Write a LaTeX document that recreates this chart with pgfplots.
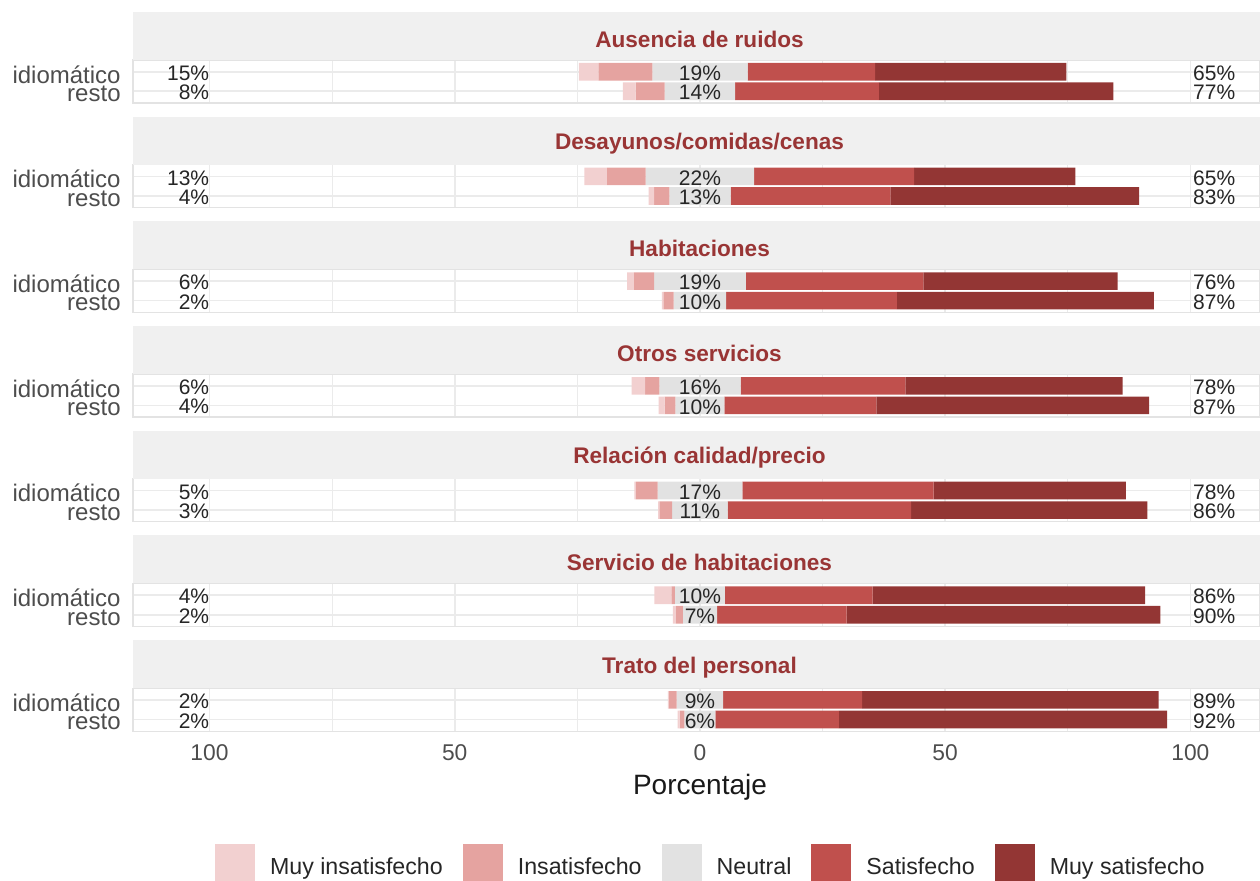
\documentclass[border=0pt]{standalone}
\usepackage{pgfplots}
\usepackage{pgfplotstable}
\pgfplotsset{compat=1.18}
\usepackage{fontspec}
\setmainfont{Liberation Sans}

\definecolor{c1}{HTML}{F2D0D0}
\definecolor{c2}{HTML}{E5A3A0}
\definecolor{c3}{HTML}{E2E2E2}
\definecolor{c4}{HTML}{C0504D}
\definecolor{c5}{HTML}{933634}
\definecolor{stripc}{HTML}{F0F0F0}
\definecolor{titlec}{HTML}{993535}
\definecolor{gridc}{HTML}{EBEBEB}
\definecolor{borderc}{HTML}{E3E3E3}
\definecolor{textc}{HTML}{4D4D4D}
\definecolor{labc}{HTML}{262626}

% y: 2 = idiomatico, 1 = resto ; L = left end of the stacked bar
\pgfplotstableread{
y L m1 m2 n s ms
2 -24.7 4 11 19.4 26 39
1 -15.7 2.6 5.9 14.4 29.3 47.8
}\tA
\pgfplotstableread{
y L m1 m2 n s ms
2 -23.55 4.6 7.9 22.1 32.6 32.9
1 -10.45 1.1 3.1 12.5 32.6 50.7
}\tB
\pgfplotstableread{
y L m1 m2 n s ms
2 -14.85 1.4 4.1 18.7 36.2 39.6
1 -7.75 0.3 2.1 10.7 34.8 52.4
}\tC
\pgfplotstableread{
y L m1 m2 n s ms
2 -13.925 2.75 2.9 16.55 33.6 44.3
1 -8.4 1.2 2.2 10 31 55.6
}\tD
\pgfplotstableread{
y L m1 m2 n s ms
2 -13.35 0.3 4.4 17.3 39 39.2
1 -8.55 0.3 2.6 11.3 37.4 48.2
}\tE
\pgfplotstableread{
y L m1 m2 n s ms
2 -9.3 3.5 0.7 10.2 30.1 55.6
1 -5.5 0.6 1.4 7 26.4 64.0
}\tF
\pgfplotstableread{
y L m1 m2 n s ms
2 -6.55 0.2 1.6 9.5 28.3 60.5
1 -4.55 0.4 1.0 6.3 25.2 66.9
}\tG

\pgfplotsset{
  panel/.style={
    width=563.5pt, height=21.5pt, scale only axis,
    xmin=-115.6, xmax=114.2, ymin=0.4, ymax=2.6,
    xbar stacked, stack negative=on previous, bar width=8.8pt,
    xtick={-100,-50,0,50,100}, minor xtick={-75,-25,25,75},
    xticklabel=\empty,
    ytick={1,2}, yticklabels={resto,idiomático},
    major tick length=0pt, minor tick length=0pt,
    xmajorgrids, xminorgrids, ymajorgrids,
    major grid style={gridc, line width=0.8pt},
    minor grid style={gridc, line width=0.5pt},
    axis line style={borderc, line width=0.6pt},
    yticklabel style={font=\fontsize{12}{14}\selectfont, text=textc, inner sep=0pt, xshift=-6pt, yshift=-1.3pt},
    clip=false,
    anchor=south west,
  },
}
\tikzset{
  pl/.style={font=\fontsize{10.5}{12}\selectfont, inner sep=0pt, text=labc, yshift=-0.7pt},
  stitle/.style={font=\bfseries\fontsize{11.3}{13}\selectfont, text=titlec, inner sep=0pt},
}

% labels, drawn after the axis at coordinates defined inside it
\newcommand\labs[6]{%
  \node[pl, anchor=east] at (ll2) {#1\%};
  \node[pl] at (lc2) {#2\%};
  \node[pl, anchor=west] at (lr2) {#3\%};
  \node[pl, anchor=east] at (ll1) {#4\%};
  \node[pl] at (lc1) {#5\%};
  \node[pl, anchor=west] at (lr1) {#6\%};
}

\newcommand\panel[7]{%
  \begin{axis}[panel, name=p#1, at={(66.5pt,#2)}, #5]
    #7
    \addplot[draw=none, fill=none] table[x=L, y=y] {#4};
    \addplot[fill=c1, draw=none] table[x=m1, y=y] {#4};
    \addplot[fill=c2, draw=none] table[x=m2, y=y] {#4};
    \addplot[fill=c3, draw=none] table[x=n, y=y] {#4};
    \addplot[fill=c4, draw=none] table[x=s, y=y] {#4};
    \addplot[fill=c5, draw=none] table[x=ms, y=y] {#4};
    \coordinate (ll2) at (axis cs:-100,2);
    \coordinate (lc2) at (axis cs:0,2);
    \coordinate (lr2) at (axis cs:100.5,2);
    \coordinate (ll1) at (axis cs:-100,1);
    \coordinate (lc1) at (axis cs:0,1);
    \coordinate (lr1) at (axis cs:100.5,1);
  \end{axis}
  #6
  \fill[stripc] (p#1.north west) rectangle ([yshift=24pt]p#1.north east);
  \node[stitle] at ([yshift=10.5pt, xshift=1.5pt]p#1.north) {#3};
}

\begin{document}
\begin{tikzpicture}
\panel{1}{388.5pt}{Ausencia de ruidos}{\tA}{}{\labs{15}{19}{65}{8}{14}{77}}{}
\panel{2}{336.15pt}{Desayunos/comidas/cenas}{\tB}{}{\labs{13}{22}{65}{4}{13}{83}}{}
\panel{3}{283.8pt}{Habitaciones}{\tC}{}{\labs{6}{19}{76}{2}{10}{87}}{}
\panel{4}{231.45pt}{Otros servicios}{\tD}{}{\labs{6}{16}{78}{4}{10}{87}}{}
\panel{5}{179.1pt}{Relación calidad/precio}{\tE}{}{\labs{5}{17}{78}{3}{11}{86}}{}
\panel{6}{126.75pt}{Servicio de habitaciones}{\tF}{}{\labs{4}{10}{86}{2}{7}{90}}{}
\panel{7}{74.4pt}{Trato del personal}{\tG}{%
  xticklabels={100,50,0,50,100},
  xticklabel style={font=\fontsize{11.4}{13}\selectfont, text=textc, anchor=north, inner sep=0pt, xshift=0pt, yshift=-6.5pt},
  legend entries={Muy insatisfecho,Insatisfecho,Neutral,Satisfecho,Muy satisfecho},
  legend columns=5,
  legend image code/.code={\fill[#1] (0pt,-8pt) rectangle (20pt,12pt);},
  legend style={at={(axis description cs:0.0728,-3.088)}, anchor=west, draw=none, fill=none,
    inner sep=0pt, outer sep=0pt,
    font=\fontsize{11.6}{13}\selectfont, text=labc,
    nodes={inner sep=0pt},
    /tikz/every odd column/.append style={column sep=7.5pt},
    /tikz/every even column/.append style={column sep=10pt}},
}{\labs{2}{9}{89}{2}{6}{92}}{%
  \addlegendimage{fill=c1, draw=none}
  \addlegendimage{fill=c2, draw=none}
  \addlegendimage{fill=c3, draw=none}
  \addlegendimage{fill=c4, draw=none}
  \addlegendimage{fill=c5, draw=none}
}
\node[font=\fontsize{14}{16}\selectfont, text=black!90] at (350pt,46.5pt) {Porcentaje};
\pgfresetboundingbox
\path[use as bounding box] (0,0) rectangle (630pt,440pt);
\end{tikzpicture}
\end{document}
